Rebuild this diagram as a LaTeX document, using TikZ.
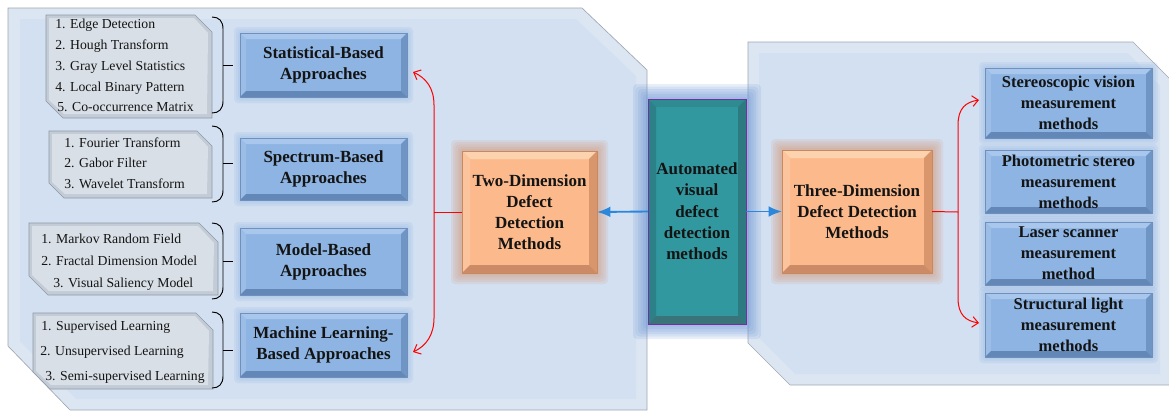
\documentclass[tikz,border=0pt]{standalone}
\usepackage{fontspec}
\setmainfont{Liberation Serif}
\usetikzlibrary{arrows.meta,calc}
\pgfdeclarelayer{panel}
\pgfdeclarelayer{glowl}
\pgfsetlayers{panel,glowl,main}

\definecolor{panelOut}{HTML}{DCE6F2}
\definecolor{panelIn}{HTML}{D2E0F1}
\definecolor{panelLine}{HTML}{A0A8B0}
\definecolor{listOut}{HTML}{C3CCD6}
\definecolor{listIn}{HTML}{D8DFE7}
\definecolor{listLine}{HTML}{8F99A4}
\definecolor{bBase}{HTML}{8DB4E2}
\definecolor{bTop}{HTML}{A9C7EC}
\definecolor{bLeft}{HTML}{9CBDE5}
\definecolor{bRight}{HTML}{6F95C5}
\definecolor{bBot}{HTML}{6388B8}
\definecolor{bLine}{HTML}{6F8FBD}
\definecolor{bGlow}{HTML}{8FB3E3}
\definecolor{oBase}{HTML}{FCBA8C}
\definecolor{oTop}{HTML}{FDD2AF}
\definecolor{oLeft}{HTML}{FCC49D}
\definecolor{oRight}{HTML}{D9966D}
\definecolor{oBot}{HTML}{CC8A66}
\definecolor{oLine}{HTML}{C9895F}
\definecolor{oGlow}{HTML}{D39A7B}
\definecolor{tBase}{HTML}{3298A0}
\definecolor{tTop}{HTML}{2F8B92}
\definecolor{tLeft}{HTML}{2C8088}
\definecolor{tRight}{HTML}{2D7A80}
\definecolor{tBot}{HTML}{3A7379}
\definecolor{tLine}{HTML}{7030A0}
\definecolor{tGlow}{HTML}{6E96D6}
\definecolor{txt}{HTML}{141414}
\definecolor{arrBlue}{HTML}{2A87DC}

\newcommand{\mkbox}[6]{%
  \node[#1,minimum width={(#5-#3)*0.75pt},minimum height={(#6-#4)*0.75pt}] (#2) at ({(#3+#5)/2},{(#4+#6)/2}) {};}
\newcommand{\glowbox}[4]{%
  \begin{pgfonlayer}{glowl}
  \foreach \k in {1,...,#3}{%
    \fill[#2,opacity=0.16,rounded corners=3pt] ($(#1.north west)+({-\k*#4},{-\k*#4})$) rectangle ($(#1.south east)+({\k*#4},{\k*#4})$);}
  \end{pgfonlayer}}
\newcommand{\bevelbox}[7]{%
  \fill[#3] (#1.north west) -- (#1.north east) -- ($(#1.north east)+(-#2,#2)$) -- ($(#1.north west)+(#2,#2)$) -- cycle;
  \fill[#4] (#1.north west) -- ($(#1.north west)+(#2,#2)$) -- ($(#1.south west)+(#2,-#2)$) -- (#1.south west) -- cycle;
  \fill[#5] (#1.north east) -- ($(#1.north east)+(-#2,#2)$) -- ($(#1.south east)+(-#2,-#2)$) -- (#1.south east) -- cycle;
  \fill[#6] (#1.south west) -- ($(#1.south west)+(#2,-#2)$) -- ($(#1.south east)+(-#2,-#2)$) -- (#1.south east) -- cycle;
  \draw[#7,line width=0.5pt] (#1.north west) rectangle (#1.south east);}
\newcommand{\listshape}[5]{%
  \fill[listOut,draw=listLine,line width=0.4pt] (#1,#2) -- ({#3-#5},#2) -- (#3,{#2+#5}) -- (#3,#4) -- ({#1+#5},#4) -- (#1,{#4-#5}) -- cycle;
  \fill[listIn] ({#1+3},{#2+3}) -- ({#3-#5-1},{#2+3}) -- ({#3-4},{#2+#5+1}) -- ({#3-5},{#4-4}) -- ({#1+#5+1},{#4-4}) -- ({#1+3},{#4-#5-1}) -- cycle;}
\newcommand{\mybrace}[2]{%
  \draw[black,line width=0.7pt] (212,#1) .. controls (219,#1) and (223,{#1+4}) .. (223,{#1+12}) -- (223,{#2-12}) .. controls (223,{#2-4}) and (219,#2) .. (212,#2);}

\begin{document}
\begin{tikzpicture}[x=0.75pt,y=-0.75pt,
  title/.style={inner sep=0pt,outer sep=0pt,text=txt,align=center,
    font=\bfseries\fontsize{12.75}{15.75}\selectfont},
  rtitle/.style={title,font=\bfseries\fontsize{12.4}{15.75}\selectfont},
  bluebox/.style={inner sep=0pt,outer sep=0pt,fill=bBase},
  orangebox/.style={inner sep=0pt,outer sep=0pt,fill=oBase},
  tealbox/.style={inner sep=0pt,outer sep=0pt,fill=tBase},
  listtxt/.style={inner sep=0pt,anchor=base west,text=txt,font=\fontsize{10.3}{12}\selectfont},
  redline/.style={red,line width=0.75pt},
  redarr/.style={redline,-{Straight Barb[length=4.5pt,width=8pt]}},
  bluearr/.style={arrBlue,line width=1.4pt,-{Latex[length=10pt,width=8pt]}}]
\useasboundingbox (0,0) rectangle (1169,412);
\clip (0,0) rectangle (1169,412);

% panels
\begin{pgfonlayer}{panel}
\fill[panelOut,draw=panelLine,line width=0.5pt] (8,8) -- (582,8) -- (647,70) -- (647,410) -- (70,410) -- (8,346) -- cycle;
\fill[panelIn] (20,19) -- (576,19) -- (636,76) -- (636,399) -- (76,399) -- (20,341) -- cycle;
\fill[panelOut,draw=panelLine,line width=0.5pt] (748,42) -- (1133,42) -- (1172,81) -- (1172,385) -- (790,385) -- (748,343) -- cycle;
\fill[panelIn] (759,53) -- (1128,53) -- (1160,86) -- (1160,374) -- (795,374) -- (759,338) -- cycle;
\end{pgfonlayer}

% list shapes
\listshape{46}{15}{212}{118}{17}
\listshape{49}{131}{212}{198}{15}
\listshape{29}{223}{218}{295}{19}
\listshape{33}{313}{213}{389}{17}

% list texts
\node[listtxt] (s1) at (55,28.5) {1. Edge Detection};
\node[listtxt] (s2) at (55,49.5) {2. Hough Transform};
\node[listtxt] (s3) at (55,70.5) {3. Gray Level Statistics};
\node[listtxt] (s4) at (55,91.5) {4. Local Binary Pattern};
\node[listtxt] (s5) at (57,111.5) {5. Co-occurrence Matrix};
\node[listtxt] (p1) at (64,147.5) {1. Fourier Transform};
\node[listtxt] (p2) at (64,167.5) {2. Gabor Filter};
\node[listtxt] (p3) at (64,188.5) {3. Wavelet Transform};
\node[listtxt] (m1) at (41,243.5) {1. Markov Random Field};
\node[listtxt] (m2) at (41,265.5) {2. Fractal Dimension Model};
\node[listtxt] (m3) at (53,287.5) {3. Visual Saliency Model};
\node[listtxt] (l1) at (41,330.5) {1. Supervised Learning};
\node[listtxt] (l2) at (40,355.5) {2. Unsupervised Learning};
\node[listtxt] (l3) at (45,380.5) {3. Semi-supervised Learning};

% boxes
\mkbox{bluebox}{stat}{240}{33}{407}{97}
\mkbox{bluebox}{spec}{240}{138}{407}{200}
\mkbox{bluebox}{model}{240}{228}{407}{295}
\mkbox{bluebox}{ml}{240}{313}{407}{377}
\mkbox{orangebox}{two}{462}{151}{597}{273}
\mkbox{tealbox}{auto}{648}{99}{746}{324}
\mkbox{orangebox}{three}{782}{150}{932}{273}
\mkbox{bluebox}{st}{985}{68}{1152}{138}
\mkbox{bluebox}{ph}{985}{150}{1152}{213}
\mkbox{bluebox}{la}{985}{222}{1152}{285}
\mkbox{bluebox}{sl}{985}{293}{1152}{357}

% glows
\foreach \n in {stat,spec,model,ml,st,ph,la,sl}{\glowbox{\n}{bGlow}{3}{2}}
\glowbox{two}{oGlow}{5}{2.2}
\glowbox{three}{oGlow}{5}{2.2}
\glowbox{auto}{tGlow}{6}{2.5}

% bevels
\foreach \n in {stat,spec,model,ml,st,ph,la,sl}{\bevelbox{\n}{6}{bTop}{bLeft}{bRight}{bBot}{bLine}}
\bevelbox{two}{8}{oTop}{oLeft}{oRight}{oBot}{oLine}
\bevelbox{three}{8}{oTop}{oLeft}{oRight}{oBot}{oLine}
\bevelbox{auto}{8}{tTop}{tLeft}{tRight}{tBot}{tLine}

% texts
\node[title] (statT) at (stat) {Statistical-Based\\Approaches};
\node[title] (specT) at (spec) {Spectrum-Based\\Approaches};
\node[title] (modelT) at (model) {Model-Based\\Approaches};
\node[title] (mlT) at (ml) {Machine Learning-\\Based Approaches};
\node[title] (twoT) at (two) {Two-Dimension\\Defect\\Detection\\Methods};
\node[title,font=\bfseries\fontsize{12.75}{16}\selectfont] (autoT) at (auto) {Automated\\visual\\defect\\detection\\methods};
\node[title] (threeT) at (three) {Three-Dimension\\Defect Detection\\Methods};
\node[rtitle] (stT) at (st) {Stereoscopic vision\\measurement\\methods};
\node[rtitle] (phT) at (ph) {Photometric stereo\\measurement\\methods};
\node[rtitle] (laT) at (la) {Laser scanner\\measurement\\method};
\node[rtitle] (slT) at (sl) {Structural light\\measurement\\methods};

% braces
\mybrace{17}{113}
\mybrace{126}{202}
\mybrace{223}{299}
\mybrace{312}{388}
\draw[black,line width=0.7pt] (223,65) -- ($(stat.west)+(-7,0)$);
\draw[black,line width=0.7pt] (223,163) -- ($(spec.west)+(-7,-6)$);
\draw[black,line width=0.7pt] (223,261) -- ($(model.west)+(-7,-0.5)$);
\draw[black,line width=0.7pt] (223,350) -- ($(ml.west)+(-7,5)$);

% blue arrows
\draw[bluearr] (auto.west) -- (two.east);
\draw[bluearr] (auto.east) -- (three.west);

% red connectors left
\coordinate (jl) at (434,212);
\draw[redline] (two.west) -- (jl);
\draw[redarr] (jl) -- (434,105) .. controls (434,88) and (426,78) .. ($(stat.east)+(6,7)$);
\draw[redarr] (jl) -- (434,318) .. controls (434,335) and (426,346) .. ($(ml.east)+(6,7)$);
% red connectors right
\coordinate (jr) at (958,212);
\draw[redline] (three.east) -- (jr);
\draw[redarr] (jr) -- (958,125) .. controls (958,108) and (966,102) .. ($(st.west)+(-6,-3)$);
\draw[redarr] (jr) -- (958,298) .. controls (958,315) and (966,321) .. ($(sl.west)+(-6,-2)$);
\end{tikzpicture}
\end{document}
